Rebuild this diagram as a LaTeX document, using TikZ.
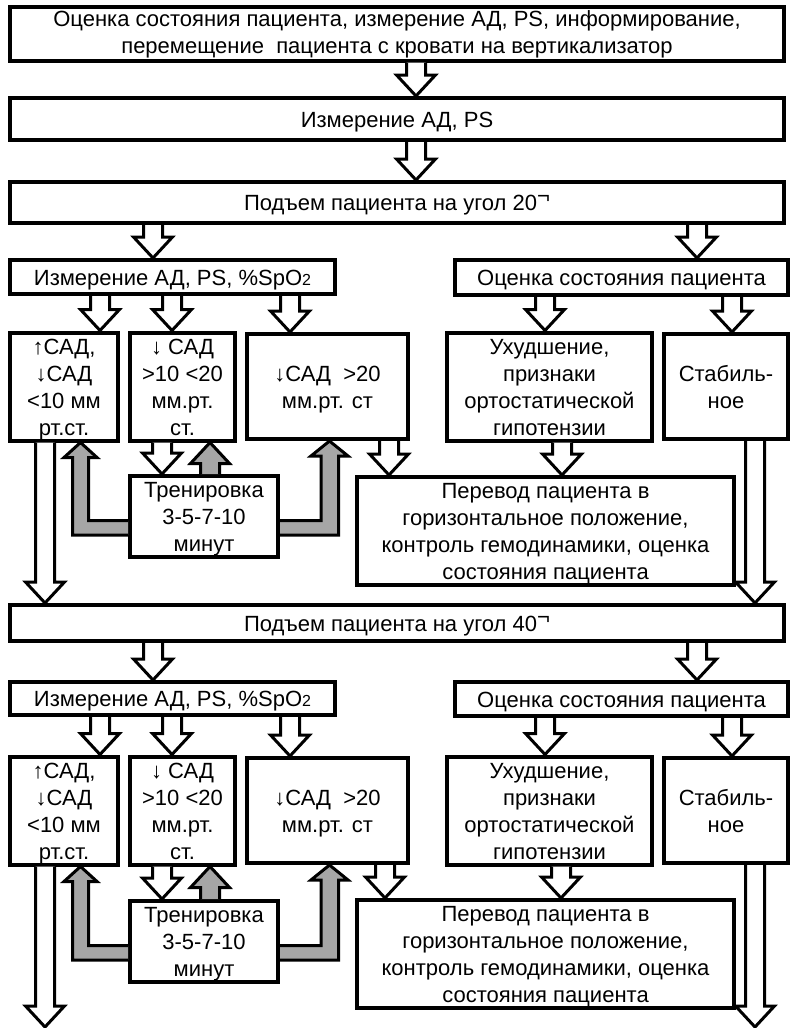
\documentclass[tikz,border=0pt]{standalone}
\usepackage{fontspec}
\setmainfont{Liberation Sans}
\usetikzlibrary{calc}
\definecolor{gfill}{RGB}{166,166,166}
\newcommand\bahw{7.125pt}
\newcommand\bahh{14.625pt}
\newcommand\bahl{15.75pt}
% box by border-line corners (px): [text drop], name, x1, y1, x2, y2, text
\newcommand\bx[7][2pt]{\node[box, minimum width={(#5-#3)*0.75pt}, minimum height={(#6-#4)*0.75pt}]
  (#2) at ({(#3+#5)/2},{(#4+#6)/2})
  {\raisebox{-#1}[\height][\depth]{\begin{tabular}{@{}c@{}}#7\end{tabular}}};}
\newcommand\dnblk[3][white]{%
  \draw[blk,fill=#1] let \p1=(#2), \p2=(#3) in
   ({\x1-\bahw},\y1) -- ({\x1-\bahw},{\y2+\bahl}) -- ({\x1-\bahh},{\y2+\bahl}) -- (\x1,\y2)
   -- ({\x1+\bahh},{\y2+\bahl}) -- ({\x1+\bahw},{\y2+\bahl}) -- ({\x1+\bahw},\y1);}
\newcommand\upblk[3][white]{%
  \draw[blk,fill=#1] let \p1=(#2), \p2=(#3) in
   ({\x1-\bahw},\y1) -- ({\x1-\bahw},{\y2-\bahl}) -- ({\x1-\bahh},{\y2-\bahl}) -- (\x1,\y2)
   -- ({\x1+\bahh},{\y2-\bahl}) -- ({\x1+\bahw},{\y2-\bahl}) -- ({\x1+\bahw},\y1);}
% gray L-shaped arrows: #1 training node, #2 target box
\newcommand\grayleft[2]{%
  \draw[blk,fill=gfill] ($(#1.north west)+(0,61)$) -- ($(#1.north west -| 72.5,0)+(0,61)$)
   -- ($(#2.south -| 72.5,0)+(0,15)$) -- ($(#2.south -| 64,0)+(0,15)$) -- (#2.south -| 80.5,0)
   -- ($(#2.south -| 97,0)+(0,15)$) -- ($(#2.south -| 88.5,0)+(0,15)$)
   -- ($(#1.north west -| 88.5,0)+(0,46.5)$) -- ($(#1.north west)+(0,46.5)$);}
\newcommand\grayright[2]{%
  \draw[blk,fill=gfill] ($(#1.north east)+(0,61)$) -- ($(#1.north east -| 338.5,0)+(0,61)$)
   -- ($(#2.south -| 338.5,0)+(0,15)$) -- ($(#2.south -| 348,0)+(0,15)$) -- (#2.south -| 329.5,0)
   -- ($(#2.south -| 311,0)+(0,15)$) -- ($(#2.south -| 321,0)+(0,15)$)
   -- ($(#1.north east -| 321,0)+(0,46.5)$) -- ($(#1.north east)+(0,46.5)$);}
\newcommand\degsym{\raisebox{.32em}{¬}}
\newcommand\spo{\%SpO{\fontsize{12pt}{12pt}\selectfont 2}}
\begin{document}
\begin{tikzpicture}[x=0.75pt,y=-0.75pt,
  box/.style={draw, line width=3pt, fill=white, inner sep=0pt,
    font=\fontsize{16.5pt}{20.25pt}\selectfont},
  blk/.style={draw, line width=2.25pt, line join=miter}]
\useasboundingbox[fill=white] (0,0) rectangle (792,1028);
% ---------- top
\bx[0.5pt]{n1}{10}{7}{784}{60}{Оценка состояния пациента, измерение АД, PS, информирование,\\перемещение\ \ пациента с кровати на вертикализатор}
\bx{n2}{10}{98}{784}{140}{Измерение АД, PS}
\bx{n3}{10}{182}{784}{223}{Подъем пациента на угол 20\degsym}
% ---------- block 1
\bx{m1}{10}{260}{335}{294}{Измерение АД, PS, \spo}
\bx{o1}{455}{260}{788}{295}{Оценка состояния пациента}
\bx{a1}{10}{334}{118}{439}{↑САД,\\↓САД\\<10 мм\\рт.ст.}
\bx{s1}{130}{334}{235}{439}{↓ САД\\>10 <20\\мм.рт.\\ст.}
\bx{c1}{247}{334}{408}{439}{↓САД\ \ >20\\мм.рт. ст}
\bx{d1}{447}{334}{652}{439}{Ухудшение,\\признаки\\ортостатической\\гипотензии}
\bx{e1}{664}{334}{788}{439}{Стабиль-\\ное}
\bx{t1}{130}{478}{278}{555}{Тренировка\\3-5-7-10\\минут}
\bx{p1}{357}{479}{734}{583}{Перевод пациента в\\горизонтальное положение,\\контроль гемодинамики, оценка\\состояния пациента}
% ---------- block 2
\bx{n4}{10}{605}{784}{641}{Подъем пациента на угол 40\degsym}
\bx{m2}{10}{682}{335}{715}{Измерение АД, PS, \spo}
\bx{o2}{455}{682}{788}{716}{Оценка состояния пациента}
\bx{a2}{10}{758}{118}{863}{↑САД,\\↓САД\\<10 мм\\рт.ст.}
\bx{s2}{130}{758}{235}{863}{↓ САД\\>10 <20\\мм.рт.\\ст.}
\bx{c2}{247}{758}{408}{863}{↓САД\ \ >20\\мм.рт. ст}
\bx{d2}{447}{758}{652}{863}{Ухудшение,\\признаки\\ортостатической\\гипотензии}
\bx{e2}{664}{758}{788}{863}{Стабиль-\\ное}
\bx{t2}{130}{902}{278}{981}{Тренировка\\3-5-7-10\\минут}
\bx{p2}{357}{902}{734}{1006}{Перевод пациента в\\горизонтальное положение,\\контроль гемодинамики, оценка\\состояния пациента}
\coordinate (endL) at (45,1027);
\coordinate (endR) at (755,1027);
% ---------- arrows top
\dnblk{n1.south -| 416,0}{n2.north -| 416,0}
\dnblk{n2.south -| 416,0}{n3.north -| 416,0}
\dnblk{n3.south -| 153,0}{m1.north -| 153,0}
\dnblk{n3.south -| 697,0}{o1.north -| 697,0}
% ---------- arrows block 1
\dnblk{m1.south -| 100,0}{a1.north -| 100,0}
\dnblk{m1.south -| 172,0}{s1.north -| 172,0}
\dnblk{m1.south -| 290,0}{c1.north -| 290,0}
\dnblk{o1.south -| 545,0}{d1.north -| 545,0}
\dnblk{o1.south -| 732,0}{e1.north -| 732,0}
\dnblk{s1.south -| 162,0}{t1.north -| 162,0}
\upblk[gfill]{t1.north -| 210,0}{s1.south -| 210,0}
\dnblk{c1.south -| 389,0}{p1.north -| 389,0}
\dnblk{d1.south -| 562,0}{p1.north -| 562,0}
\grayleft{t1}{a1}
\grayright{t1}{c1}
\dnblk{a1.south -| 45,0}{n4.north -| 45,0}
\dnblk{e1.south -| 755,0}{n4.north -| 755,0}
% ---------- arrows block 2
\dnblk{n4.south -| 153,0}{m2.north -| 153,0}
\dnblk{n4.south -| 697,0}{o2.north -| 697,0}
\dnblk{m2.south -| 100,0}{a2.north -| 100,0}
\dnblk{m2.south -| 172,0}{s2.north -| 172,0}
\dnblk{m2.south -| 290,0}{c2.north -| 290,0}
\dnblk{o2.south -| 545,0}{d2.north -| 545,0}
\dnblk{o2.south -| 732,0}{e2.north -| 732,0}
\dnblk{s2.south -| 162,0}{t2.north -| 162,0}
\upblk[gfill]{t2.north -| 210,0}{s2.south -| 210,0}
\dnblk{c2.south -| 385,0}{p2.north -| 385,0}
\dnblk{d2.south -| 561,0}{p2.north -| 561,0}
\grayleft{t2}{a2}
\grayright{t2}{c2}
\dnblk{a2.south -| 45,0}{endL}
\dnblk{e2.south -| 755,0}{endR}
\end{tikzpicture}
\end{document}
